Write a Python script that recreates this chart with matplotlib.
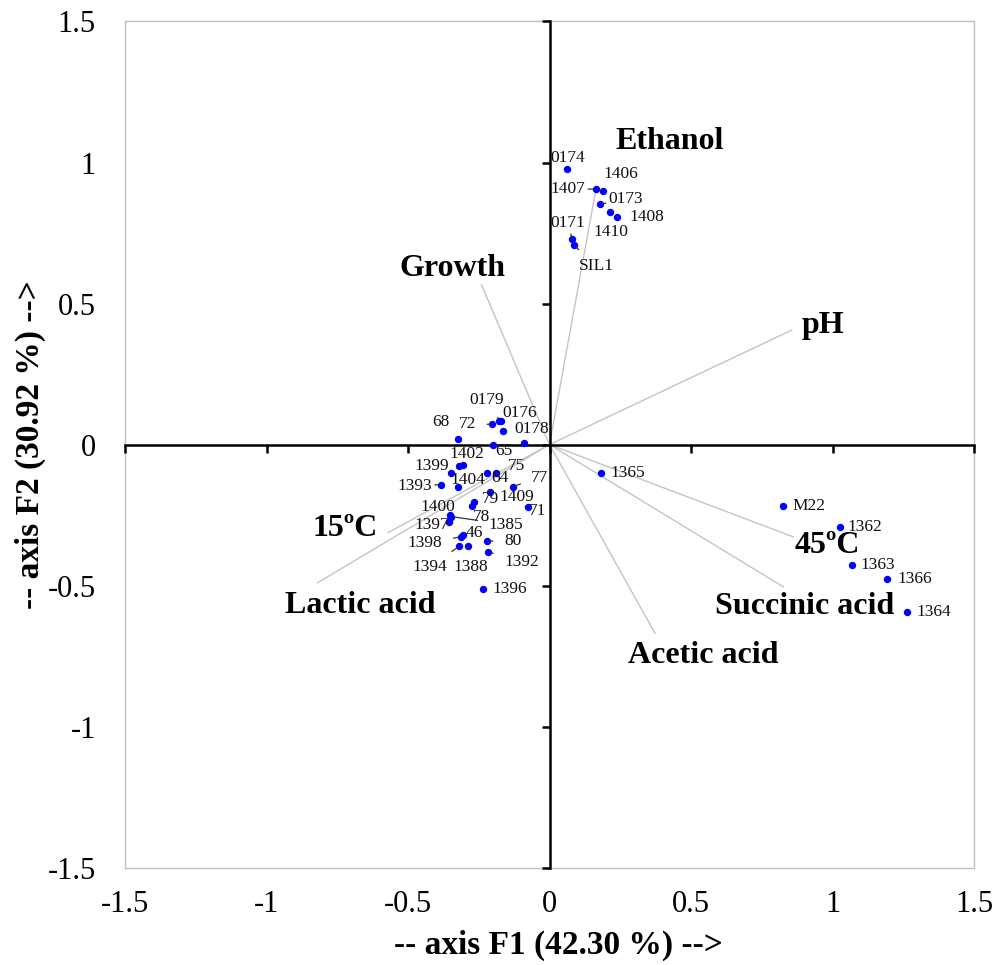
import numpy as np
import matplotlib
matplotlib.use('Agg')
import matplotlib.pyplot as plt

plt.rcParams['font.family'] = ['Liberation Serif', 'DejaVu Serif']

# observations (PCA scores)
obs_names = ['0174', '1407', '1406', '0173', '1410', '1408', '0171', 'SIL1',
             'M22', '1362', '1363', '1366', '1364', '1365',
             '0179', '0176', '72', '68', '0178', '', '65', '', '1402', '1399',
             '1393', '1404', '64', '75', '77', '1409', '79', '78', '71',
             '1400', '1397', '1385', '46', '1398', '80', '1394', '1388',
             '1392', '1396']
obs_f1 = [0.061, 0.164, 0.190, 0.178, 0.214, 0.237, 0.080, 0.087,
          0.824, 1.026, 1.069, 1.194, 1.262, 0.182,
          -0.177, -0.172, -0.202, -0.324, -0.164, -0.090, -0.201, -0.319, -0.305, -0.348,
          -0.384, -0.324, -0.220, -0.188, -0.130, -0.210, -0.266, -0.275, -0.077,
          -0.352, -0.354, -0.348, -0.307, -0.312, -0.222, -0.319, -0.289,
          -0.216, -0.236]
obs_f2 = [0.976, 0.906, 0.900, 0.852, 0.824, 0.808, 0.728, 0.707,
          -0.217, -0.291, -0.427, -0.477, -0.593, -0.101,
          0.085, 0.083, 0.072, 0.019, 0.049, 0.007, -0.002, -0.076, -0.073, -0.102,
          -0.142, -0.149, -0.100, -0.102, -0.149, -0.167, -0.202, -0.217, -0.222,
          -0.250, -0.276, -0.255, -0.321, -0.327, -0.342, -0.360, -0.360,
          -0.380, -0.511]

# variables (loadings)
var_names = ['Ethanol', 'Growth', 'pH', '15ºC', 'Lactic acid', '45ºC',
             'Succinic acid', 'Acetic acid']
var_f1 = [0.164, -0.240, 0.856, -0.570, -0.820, 0.861, 0.826, 0.373]
var_f2 = [0.905, 0.566, 0.406, -0.312, -0.490, -0.327, -0.504, -0.669]

ticks = [-1.5, -1, -0.5, 0, 0.5, 1, 1.5]
tick_labels = ['-1.5', '-1', '-0.5', '0', '0.5', '1', '1.5']

# label placement (pixels offset from point, leader line yes/no)
lab_off = {
    '0174': (1, 11, 0), '1407': (-28, 0, 1), '1406': (18, 17, 1), '0173': (26, 5, 1),
    '1410': (1, -20, 0), '1408': (30, 0, 1), '0171': (-4, 16, 1), 'SIL1': (22, -21, 1),
    'M22': (26, 0, 0), '1362': (25, 0, 0), '1363': (26, 0, 0), '1366': (27, 0, 0),
    '1364': (27, 0, 0), '1365': (27, 0, 0),
    '0179': (-13, 21, 1), '0176': (19, 8, 0), '72': (-25, 0, 1), '68': (-17, 17, 1),
    '0178': (29, 2, 1), '65': (11, -6, 0), '1402': (4, 11, 0), '1399': (-19, 7, 0),
    '1393': (-26, -1, 1), '1404': (10, 7, 0), '64': (13, -5, 0), '75': (20, 7, 1),
    '77': (27, 9, 1), '1409': (27, -5, 0), '79': (16, 3, 0), '78': (10, -11, 0),
    '71': (10, -4, 0), '1400': (-12, 8, 0), '1397': (-18, -3, 0), '1385': (55, -8, 1),
    '46': (12, 2, 0), '1398': (-36, -6, 1), '80': (26, 0, 1), '1394': (-29, -21, 1),
    '1388': (3, -21, 1), '1392': (33, -10, 1), '1396': (27, 0, 0),
}

# variable label positions
var_lab = {
    'Ethanol': (0.426, 1.073), 'Growth': (-0.341, 0.626), 'pH': (0.966, 0.424),
    '15ºC': (-0.723, -0.296), 'Lactic acid': (-0.670, -0.569),
    '45ºC': (0.981, -0.356), 'Succinic acid': (0.903, -0.573),
    'Acetic acid': (0.542, -0.746),
}

fig = plt.figure(figsize=(9.97, 9.65), dpi=100)
pos = [125 / 997, 1 - 867.7 / 965, 849 / 997, (867.7 - 21.5) / 965]

# frame + tick labels
ax0 = fig.add_axes(pos)
ax0.set_xlim(-1.5, 1.5)
ax0.set_ylim(-1.5, 1.5)
for s in ax0.spines.values():
    s.set_color('#c0c0c0')
    s.set_linewidth(1)
ax0.set_xticks(ticks)
ax0.set_xticklabels(tick_labels)
ax0.set_yticks(ticks)
ax0.set_yticklabels(tick_labels)
ax0.tick_params(axis='x', length=0, labelsize=22, pad=16)
ax0.tick_params(axis='y', length=0, labelsize=22, pad=21)
ax0.set_xlabel('-- axis F1 (42.30 %) -->', fontsize=24, fontweight='bold', va='center')
ax0.set_ylabel('-- axis F2 (30.92 %) -->', fontsize=24, fontweight='bold', va='center')
ax0.xaxis.set_label_coords(0.51, -0.0915)
ax0.yaxis.set_label_coords(-0.111, 0.5)

# centered axes and data
ax = fig.add_axes(pos)
ax.patch.set_alpha(0)
ax.set_xlim(-1.5, 1.5)
ax.set_ylim(-1.5, 1.5)
ax.spines['left'].set_position(('data', 0))
ax.spines['bottom'].set_position(('data', 0))
ax.spines['right'].set_visible(False)
ax.spines['top'].set_visible(False)
for k in ['left', 'bottom']:
    ax.spines[k].set_linewidth(1.8)
    ax.spines[k].set_zorder(3)
ax.set_xticks(ticks)
ax.set_yticks(ticks)
ax.tick_params(direction='out', length=6, width=1.8, labelleft=False, labelbottom=False)

for i in range(len(var_names)):
    ax.plot([0, var_f1[i]], [0, var_f2[i]], color='#c4c4c4', lw=1, zorder=2)
    lx, ly = var_lab[var_names[i]]
    ax.text(lx, ly, var_names[i], fontsize=23, fontweight='bold',
            ha='center', va='center', zorder=5)

ax.plot(obs_f1, obs_f2, 'o', color='#0000ff', markersize=4.3, zorder=6)

for i in range(len(obs_names)):
    name = obs_names[i]
    if name == '':
        continue
    dx, dy, lead = lab_off[name]
    props = None
    if lead:
        props = dict(arrowstyle='-', color='#333333', lw=0.9, shrinkA=6, shrinkB=2)
    ax.annotate(name, (obs_f1[i], obs_f2[i]), xytext=(dx, dy),
                textcoords='offset pixels', fontsize=12.5, color='#111111',
                ha='center', va='center', arrowprops=props, zorder=7)

plt.savefig('out.png', dpi=100)
